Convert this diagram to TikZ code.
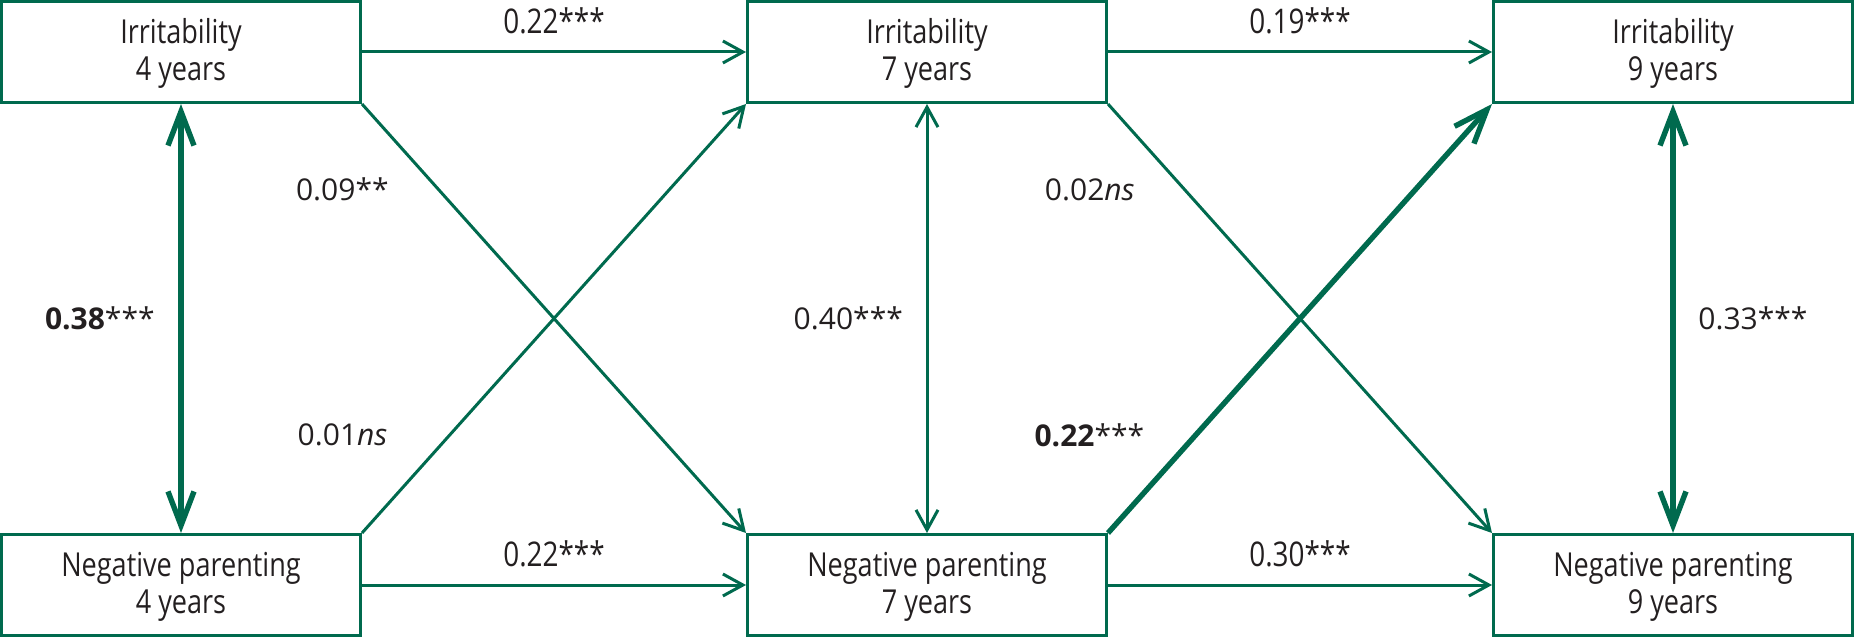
\documentclass[tikz,border=0pt]{standalone}
\usepackage{fontspec}
\setmainfont{Open Sans}
\newfontfamily\narrowfont{Open Sans}[FakeStretch=0.82]
\usetikzlibrary{arrows.meta,positioning}
\definecolor{pathgreen}{HTML}{006A4E}
\definecolor{labelgray}{HTML}{231F20}

\begin{document}
\begin{tikzpicture}[x=1pt,y=1pt,node distance=214.5pt and 192pt,text=labelgray,
  box/.style={draw=pathgreen,line width=1.5pt,minimum width=179.5pt,minimum height=50.5pt,
    inner sep=0pt,align=center,text height=32pt,font=\narrowfont\fontsize{16.5}{18.3}\selectfont},
  coef/.style={font=\fontsize{15}{18}\selectfont},
  lag/.style={font=\narrowfont\fontsize{17}{19}\selectfont},
  weak/.style={line width=1.5pt,draw=pathgreen,-{Straight Barb[length=10pt,width=11pt]}},
  strong/.style={line width=2.7pt,draw=pathgreen,-{Straight Barb[length=17pt,width=13pt]}},
  both/.style={{Straight Barb[length=17pt,width=13pt]}-{Straight Barb[length=17pt,width=13pt]}}]
\useasboundingbox (0,0) rectangle (927,319);
% boxes
\node[box] (irr4) at (90.5,293) {Irritability\\4 years};
\node[box] (irr7) [right=of irr4] {Irritability\\7 years};
\node[box] (irr9) [right=of irr7] {Irritability\\9 years};
\node[box] (par4) [below=of irr4] {Negative parenting\\4 years};
\node[box] (par7) [below=of irr7] {Negative parenting\\7 years};
\node[box] (par9) [below=of irr9] {Negative parenting\\9 years};
% paths
\path (irr4) edge [weak] node[lag,above=5pt] {0.22***} (irr7)
      (irr7) edge [weak] node[lag,above=5pt] {0.19***} (irr9)
      (par4) edge [weak] node[lag,above=5pt] {0.22***} (par7)
      (par7) edge [weak] node[lag,above=5pt] {0.30***} (par9)
      (irr4) edge [strong,both] node[coef,left=8.5pt] {\textbf{0.38}***} (par4)
      (irr7) edge [weak,{Straight Barb[length=10pt,width=11pt]}-{Straight Barb[length=10pt,width=11pt]}] node[coef,left=8pt] {0.40***} (par7)
      (irr9) edge [strong,both] node[coef,right=8pt] {0.33***} (par9)
      (irr4.south east) edge [weak] node[coef,pos=0.2,left=21pt] {0.09**} (par7.north west)
      (par4.north east) edge [weak] node[coef,pos=0.228,left=27pt] {0.01\textit{ns}} (irr7.south west)
      (irr7.south east) edge [weak] node[coef,pos=0.2,left=21pt] {0.02\textit{ns}} (par9.north west)
      (par7.north east) edge [strong] node[coef,pos=0.228,left=21pt] {\textbf{0.22}***} (irr9.south west)
;
\end{tikzpicture}
\end{document}
